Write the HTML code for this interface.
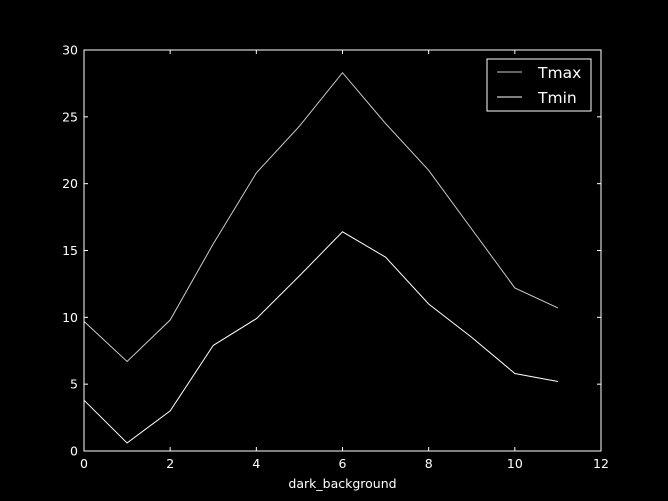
<!DOCTYPE html>
<html><head><meta charset="utf-8"><style>body{margin:0;background:#000}svg{display:block}text{font-family:"DejaVu Sans","Liberation Sans",sans-serif;fill:#fff}</style></head>
<body>
<svg id="c" width="668" height="501" viewBox="0 0 668 501"></svg>
<script>
const xVals=[0,1,2,3,4,5,6,7,8,9,10,11];
const tmax=[9.7,6.7,9.8,15.5,20.8,24.3,28.3,24.5,21,16.6,12.2,10.7];
const tmin=[3.8,0.6,3.0,7.9,9.9,13.1,16.4,14.5,11,8.5,5.8,5.2];
const xTicks=[0,2,4,6,8,10,12];
const yTicks=[0,5,10,15,20,25,30];
const L=84,R=601,T=50,B=451;
const sx=v=>L+(v-0)/12*(R-L), sy=v=>B-(v/30)*(B-T);
const svg=document.getElementById('c'),NS='http://www.w3.org/2000/svg';
function mk(t,a,p){const e=document.createElementNS(NS,t);for(const k in a)e.setAttribute(k,a[k]);(p||svg).appendChild(e);return e;}
function line(pts,color,name){const e=mk('polyline',{points:pts.map((v,i)=>sx(xVals[i])+','+sy(v)).join(' '),fill:'none',stroke:color,'stroke-width':1});

}
line(tmax,'#cccccc','tmax-line');
line(tmin,'#ffffff','tmin-line');
const fr=mk('rect',{x:L,y:T,width:R-L,height:B-T,fill:'none',stroke:'#fff','stroke-width':1});


xTicks.forEach(v=>{const x=sx(v);mk('line',{x1:x,x2:x,y1:B,y2:B-4,stroke:'#fff'});mk('line',{x1:x,x2:x,y1:T,y2:T+4,stroke:'#fff'});
const t=mk('text',{x:x,y:B+17,'text-anchor':'middle','font-size':12.5});t.textContent=v;

});
yTicks.forEach(v=>{const y=sy(v);mk('line',{x1:L,x2:L+4,y1:y,y2:y,stroke:'#fff'});mk('line',{x1:R,x2:R-4,y1:y,y2:y,stroke:'#fff'});
const t=mk('text',{x:L-6,y:y+4.5,'text-anchor':'end','font-size':12.5});t.textContent=v;

});
const xl=mk('text',{x:(L+R)/2,y:488,'text-anchor':'middle','font-size':12.5});xl.textContent='dark_background';


const lg=mk('g',{});


mk('rect',{x:487,y:59,width:104,height:52,fill:'#000',stroke:'#fff'},lg);
mk('line',{x1:497,x2:522,y1:72,y2:72,stroke:'#cccccc'},lg);
mk('line',{x1:497,x2:522,y1:97,y2:97,stroke:'#fff'},lg);
const a=mk('text',{x:538,y:78,'font-size':15.5},lg);a.textContent='Tmax';


const b=mk('text',{x:538,y:103,'font-size':15.5},lg);b.textContent='Tmin';


</script>
</body></html>
